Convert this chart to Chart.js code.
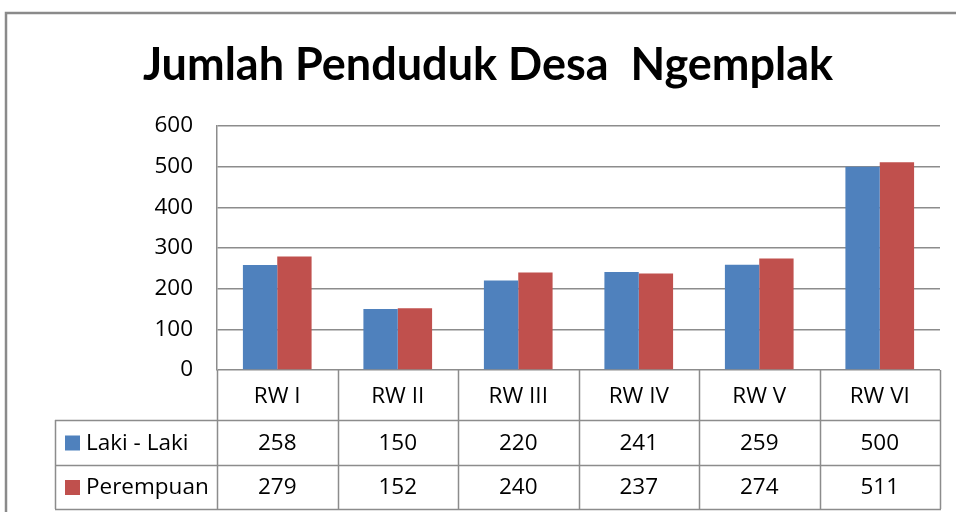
<!DOCTYPE html>
<html>
<head>
<meta charset="utf-8">
<title>Jumlah Penduduk Desa Ngemplak</title>
<script src="https://cdn.jsdelivr.net/npm/chart.js@4.4.1/dist/chart.umd.min.js"></script>
<style>
  html, body { margin: 0; padding: 0; background: #ffffff; }
  #wrap { width: 956px; height: 512px; position: relative; }
</style>
</head>
<body>
<div id="wrap"><canvas id="chart" width="956" height="512"></canvas></div>
<script>
// ------------------------------------------------------------------
// Data
// ------------------------------------------------------------------

const categories = ['RW I', 'RW II', 'RW III', 'RW IV', 'RW V', 'RW VI'];
const seriesNames = ['Laki - Laki', 'Perempuan'];
const lakiLaki = [258, 150, 220, 241, 259, 500];
const perempuan = [279, 152, 240, 237, 274, 511];
const seriesColors = ['#4F81BD', '#C0504D'];

const TITLE_FONT = 'Lato, "Liberation Sans", sans-serif';
const FONT = '"Open Sans", "Liberation Sans", sans-serif';
const LINE = '#8c8c8c';

// ------------------------------------------------------------------
// Plugins
// ------------------------------------------------------------------

/**
 * Grey frame round the whole chart (it runs off the right and bottom edge).
 */
const frame = {
  id: 'frame',
  beforeDraw(chart) {
    const ctx = chart.ctx;
    ctx.save();
    ctx.strokeStyle = '#8a8a8a';
    ctx.lineWidth = 2.5;
    ctx.strokeRect(6, 13, chart.width + 20, chart.height + 20);
    ctx.restore();
  },
};

/**
 * Excel style data table under the plot: category row, then one row per series
 * with its legend key. Column edges follow the category scale.
 */
const dataTable = {
  id: 'dataTable',
  afterDraw(chart) {
    const { ctx, chartArea } = chart;
    const x = chart.scales.x;
    const n = categories.length;
    const colW = (chartArea.right - chartArea.left) / n;
    const top = chartArea.bottom;
    const rowTops = [top, top + 50, top + 95, top + 139];
    const keyLeft = 55;

    ctx.save();
    ctx.strokeStyle = LINE;
    ctx.lineWidth = 1.5;

    ctx.beginPath();
    // vertical column edges
    for (let i = 0; i <= n; i++) {
      const px = Math.round(x.getPixelForValue(i) - colW / 2) + 0.5;
      ctx.moveTo(px, top);
      ctx.lineTo(px, rowTops[3]);
    }
    // legend column left edge
    ctx.moveTo(keyLeft + 0.5, rowTops[1]);
    ctx.lineTo(keyLeft + 0.5, rowTops[3]);
    // row lines
    for (let r = 1; r < rowTops.length; r++) {
      ctx.moveTo(keyLeft, rowTops[r] + 0.5);
      ctx.lineTo(chartArea.right + 1, rowTops[r] + 0.5);
    }
    ctx.stroke();

    ctx.fillStyle = '#000000';
    ctx.textAlign = 'center';
    ctx.textBaseline = 'middle';
    ctx.font = '22.5px ' + FONT;
    categories.forEach((c, i) => {
      ctx.fillText(c, x.getPixelForValue(i), (rowTops[0] + rowTops[1]) / 2 + 1.5);
    });

    chart.data.datasets.forEach((ds, d) => {
      const cy = (rowTops[d + 1] + rowTops[d + 2]) / 2 + 1;
      ds.data.forEach((v, i) => {
        ctx.fillText(String(v), x.getPixelForValue(i), cy);
      });
      ctx.fillStyle = ds.backgroundColor;
      ctx.fillRect(keyLeft + 10, cy - 8, 15, 15);
      ctx.fillStyle = '#000000';
      ctx.textAlign = 'left';
      ctx.fillText(ds.label, keyLeft + 31, cy);
      ctx.textAlign = 'center';
    });
    ctx.restore();
  },
};

// ------------------------------------------------------------------
// Chart
// ------------------------------------------------------------------

new Chart(document.getElementById('chart'), {
  type: 'bar',
  data: {
    labels: categories,
    datasets: [
      { label: seriesNames[0], data: lakiLaki, backgroundColor: seriesColors[0] },
      { label: seriesNames[1], data: perempuan, backgroundColor: seriesColors[1] },
    ],
  },
  options: {
    responsive: false,
    animation: false,
    events: [],
    layout: { padding: { left: 36, right: 16, top: 0, bottom: 134 } },
    datasets: { bar: { categoryPercentage: 0.57, barPercentage: 1.0 } },
    plugins: {
      legend: { display: false },
      tooltip: { enabled: false },
      title: {
        display: true,
        text: 'Jumlah Penduduk Desa  Ngemplak',
        color: '#000000',
        font: { family: TITLE_FONT, size: 45, weight: 'bold' },
        padding: { top: 38, bottom: 34 },
      },
    },
    scales: {
      x: {
        ticks: { display: false },
        grid: { display: false },
        border: { display: false },
      },
      y: {
        min: 0,
        max: 600,
        ticks: {
          stepSize: 100,
          color: '#000000',
          padding: 24,
          font: { family: FONT, size: 22.5 },
        },
        grid: { color: LINE, lineWidth: 1.5, drawTicks: false },
        border: { display: true, color: LINE, width: 1.5 },
        afterFit(scale) { scale.width = 181; },
      },
    },
  },
  plugins: [frame, dataTable],
});
</script>
</body>
</html>
